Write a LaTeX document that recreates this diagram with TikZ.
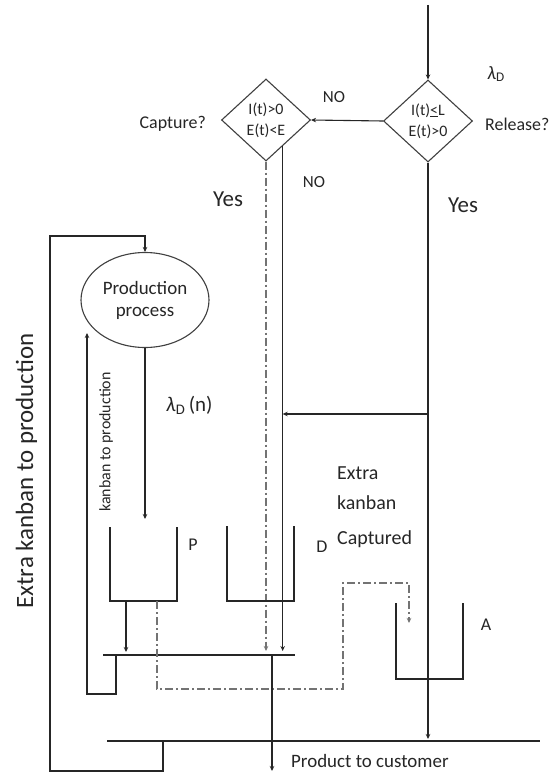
\documentclass[tikz,border=0pt]{standalone}
\usepackage{fontspec}
\setmainfont{Carlito}
\usetikzlibrary{shapes.geometric,arrows.meta,calc}
\begin{document}
\begin{tikzpicture}[x=1bp,y=-1bp,
  ln/.style={line width=1.1bp, draw=black!85},
  dd/.style={line width=1.1bp, draw=black!55, dash pattern=on 8bp off 3bp on 2bp off 3bp},
  arr/.style={-{Stealth[length=5bp,width=4.5bp]}},
  dia/.style={diamond, draw=black!75, line width=1.1bp, inner sep=0pt, minimum width=89bp, minimum height=82bp, align=center, font=\fontsize{16}{21}\selectfont, text=black!85},
  lbl/.style={font=\fontsize{18}{21}\selectfont, text=black!85, inner sep=0pt}
]
\useasboundingbox (0,0) rectangle (555,773);
\fill[white] (0,0) rectangle (555,773);

% decision nodes
\node[dia] (rd) at (428,121) {I(t)\underline{<}L\\E(t)>0};
\node[dia] (ld) at (266,120) {I(t)>0\\E(t)<E};
\node[ellipse, draw=black!75, line width=1.1bp, minimum width=128bp, minimum height=95bp, inner sep=0pt, align=center, font=\fontsize{19}{22}\selectfont, text=black!85] (pp) at (145,300) {Production\\process};

% helper coordinates
\coordinate (in) at (428,5);
\coordinate (ybar) at (0,651);
\coordinate (ybot) at (0,739);
\coordinate (ybr) at (0,414);
\coordinate (ytop) at (0,236);
\coordinate (ls) at ($(ld.south)!0.37!(ld.east)$);

% top flow
\draw[ln,arr] (in) -- (rd.north);
\draw[ln,arr] (rd.west) -- (ld.east);
\draw[dd,arr] (ld.south) -- (ld.south |- ybar);
\draw[ln,arr] (ls) -- (ls |- ybar);
\draw[ln,arr] (rd.south) -- (rd.south |- ybot);
\draw[ln,arr] (rd.south |- ybr) -- (ls |- ybr);

% loops to production
\coordinate (o1) at (163,741);
\coordinate (i1) at (116,655);
\coordinate (i2) at (87,333);
\draw[ln,arr] (o1) -- (163,771) -- (50,771) -- (50,236) -- (pp.north |- ytop) -- (pp.north);
\draw[ln,arr] (i1) -- (116,694) -- (87,694) -- (i2);
\coordinate (pin) at (145,519);
\draw[ln,arr] (pp.south) -- (pin);

% tanks
\draw[ln] (110,527) -- (110,601) -- (177,601) -- (177,527);
\draw[ln] (227,526) -- (227,601) -- (294,601) -- (294,526);
\draw[ln] (396,603) -- (396,679) -- (463,679) -- (463,603);

% bars
\draw[ln] (103,655) -- (295,655);
\draw[ln] (107,741) -- (540,741);
\coordinate (pout) at (126,601);
\draw[ln,arr] (pout) -- (126,652);
\coordinate (pdd) at (157,601);
\coordinate (ain) at (409,623);
\draw[dd,arr] (pdd) -- (157,689) -- (343,689) -- (343,583) -- (409,583) -- (ain);
\coordinate (cout) at (272,655);
\coordinate (cust) at (272,771);
\draw[ln,arr] (cout) -- (cust);

% labels
\node[lbl, font=\fontsize{19}{21}\selectfont] (lamd) at (496,74) {\textit{λ}\textsubscript{D}};
\node[lbl, anchor=west] (rel) at (485,124) {Release?};
\node[lbl, anchor=east] (cap) at (206,124) {Capture?};
\node[lbl, font=\fontsize{17}{20}\selectfont] (no1) at (334,97) {NO};
\node[lbl, font=\fontsize{17}{20}\selectfont] (no2) at (314,182) {NO};
\node[lbl, font=\fontsize{23}{26}\selectfont] (yes1) at (228,199) {Yes};
\node[lbl, font=\fontsize{23}{26}\selectfont] (yes2) at (463,205) {Yes};
\node[lbl, anchor=west, font=\fontsize{21}{24}\selectfont] (lamn) at (166,405) {\textit{λ}\textsubscript{D}\,(n)};
\node[lbl, rotate=90, font=\fontsize{16}{19}\selectfont] (kp) at (106,442) {kanban to production};
\node[lbl, rotate=90, anchor=base, font=\fontsize{25}{28}\selectfont] (ekp) at (33,471) {Extra kanban to production};
\node[lbl, anchor=west, font=\fontsize{20}{23}\selectfont] (ex1) at (337,473) {Extra};
\node[lbl, anchor=west, font=\fontsize{20}{23}\selectfont] (ex2) at (337,503) {kanban};
\node[lbl, anchor=west, font=\fontsize{20}{23}\selectfont] (ex3) at (337,539) {Captured};
\node[lbl] (lP) at (193,545) {P};
\node[lbl] (lD) at (322,547) {D};
\node[lbl] (lA) at (486,625) {A};
\node[lbl, anchor=base west, font=\fontsize{19}{22}\selectfont] (ptc) at (291,767) {Product to customer};
\end{tikzpicture}
\end{document}
